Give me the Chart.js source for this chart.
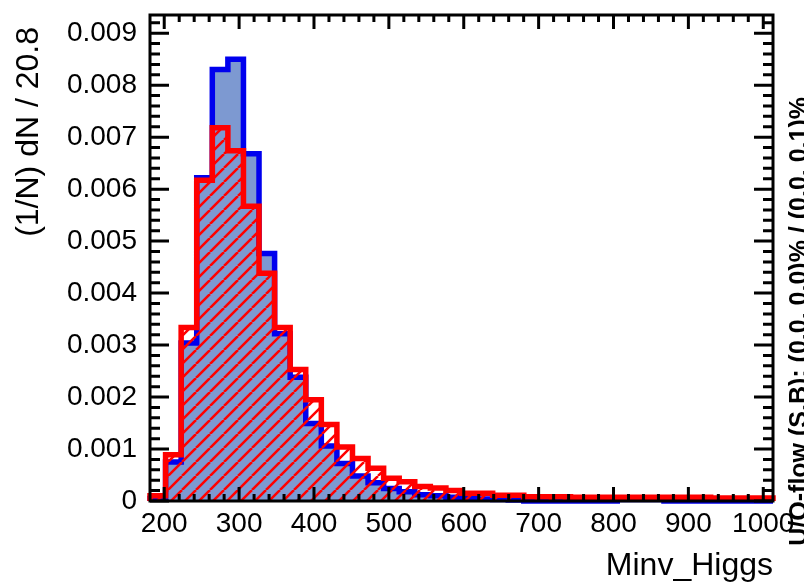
<!DOCTYPE html>
<html>
<head>
<meta charset="utf-8">
<script src="https://cdn.jsdelivr.net/npm/chart.js@4.4.1/dist/chart.umd.min.js"></script>
<style>
    html, body { margin: 0; padding: 0; background: #fff; }
    #wrap { width: 804px; height: 582px; }
</style>
</head>
<body>
<div id="wrap"><canvas id="minvChart" width="804" height="582"></canvas></div>
<script>
// Minv_Higgs, normalised to unit area: 40 bins of width 20.8 from 181 to 1013
const binLow = 181;
const binWidth = 20.8;

const signal = [
    0.00005, 0.00075, 0.00304, 0.00622, 0.0083, 0.0085, 0.00668, 0.00476, 0.00322, 0.00238,
    0.00149, 0.00106, 0.00072, 0.00048, 0.00035, 0.00024, 0.00018, 0.00012, 0.0001, 0.00007,
    0.00005, 0.00004, 0.00003, 0.00002, 0, 0, 0, 0, 0, 0,
    0.00003, 0.00003, 0.00003, 0, 0, 0, 0, 0, 0, 0
];
const background = [
    0.0001, 0.00089, 0.00334, 0.00617, 0.00718, 0.00674, 0.00567, 0.00438, 0.00334, 0.00253,
    0.00195, 0.00147, 0.00104, 0.00082, 0.00063, 0.00044, 0.00037, 0.00028, 0.00025, 0.0002,
    0.00015, 0.00015, 0.00011, 0.00011, 0.00008, 0.00008, 0.00008, 0.00007, 0.00007, 0.00007,
    0.00007, 0.00007, 0.00007, 0.00007, 0.00007, 0.00007, 0.00006, 0.00006, 0.00006, 0.00006
];

const xTicks = [200, 300, 400, 500, 600, 700, 800, 900, 1000];
const yTicks = [0, 0.001, 0.002, 0.003, 0.004, 0.005, 0.006, 0.007, 0.008, 0.009];
const yMax = 0.00935;

const labelFont = '"Liberation Sans", Arial, Helvetica, sans-serif';

// bin contents -> outline points for a step line closed down to zero
function histPoints(values) {
    const xEnd = binLow + values.length * binWidth;
    const pts = [{ x: binLow, y: 0 }];
    values.forEach((v, i) => pts.push({ x: binLow + i * binWidth, y: v }));
    pts.push({ x: xEnd, y: values[values.length - 1] });
    pts.push({ x: xEnd, y: 0 });
    return pts;
}

// red 45 degree hatching for the background histogram
function hatchPattern() {
    const s = 14;
    const c = document.createElement('canvas');
    c.width = s;
    c.height = s;
    const g = c.getContext('2d');
    g.strokeStyle = '#ff0000';
    g.lineWidth = 2.5;
    g.beginPath();
    for (const k of [-1, 0, 1]) {
        g.moveTo(k * s, s);
        g.lineTo(k * s + s, 0);
    }
    g.stroke();
    return g.createPattern(c, 'repeat');
}

// frame with inward ticks on all four sides, titles and the overflow note
const rootFrame = {
    id: 'rootFrame',
    afterDatasetsDraw(chart) {
        const { ctx, chartArea: a, scales: { x, y } } = chart;
        ctx.save();
        ctx.strokeStyle = '#000';
        ctx.lineWidth = 3;
        ctx.beginPath();

        const xStep = (xTicks[1] - xTicks[0]) / 5;
        let v0 = xTicks[0];
        while (v0 - xStep >= x.min) v0 -= xStep;
        for (let v = v0; v <= x.max + 1e-9; v += xStep) {
            const major = xTicks.some(t => Math.abs(t - v) < 1e-6);
            const len = major ? 14 : 7;
            const px = x.getPixelForValue(v);
            ctx.moveTo(px, a.bottom); ctx.lineTo(px, a.bottom - len);
            ctx.moveTo(px, a.top); ctx.lineTo(px, a.top + len);
        }

        const yStep = (yTicks[1] - yTicks[0]) / 5;
        for (let i = 0; yTicks[0] + i * yStep <= y.max + 1e-12; i++) {
            const v = yTicks[0] + i * yStep;
            const len = i % 5 === 0 ? 19 : 10;
            const py = y.getPixelForValue(v);
            ctx.moveTo(a.left, py); ctx.lineTo(a.left + len, py);
            ctx.moveTo(a.right, py); ctx.lineTo(a.right - len, py);
        }
        ctx.stroke();

        ctx.strokeRect(a.left, a.top, a.right - a.left, a.bottom - a.top);
        ctx.restore();
    },
    afterDraw(chart) {
        const { ctx, chartArea: a } = chart;
        ctx.save();
        ctx.fillStyle = '#000';
        ctx.textBaseline = 'alphabetic';
        ctx.textAlign = 'right';

        ctx.font = '32px ' + labelFont;
        ctx.fillText('Minv_Higgs', a.right, 575);

        ctx.save();
        ctx.translate(38, 27);
        ctx.rotate(-Math.PI / 2);
        ctx.fillText('(1/N) dN / 20.8', 0, 0);
        ctx.restore();

        ctx.save();
        ctx.font = 'bold 25px ' + labelFont;
        ctx.translate(807, 97);
        ctx.rotate(-Math.PI / 2);
        ctx.fillText('U/O-flow (S,B): (0.0, 0.0)% / (0.0, 0.1)%', 0, 0);
        ctx.restore();

        ctx.restore();
    }
};

const minvCtx = document.getElementById('minvChart').getContext('2d');
const minvChart = new Chart(minvCtx, {
    type: 'line',
    data: {
        datasets: [
            {
                label: 'Background',
                data: histPoints(background),
                stepped: 'before',
                borderColor: '#ff0000',
                backgroundColor: hatchPattern(),
                fill: 'origin',
                borderWidth: 5.5,
                borderJoinStyle: 'miter',
                pointRadius: 0,
                clip: 4
            },
            {
                label: 'Signal',
                data: histPoints(signal),
                stepped: 'before',
                borderColor: '#0000ee',
                backgroundColor: '#7d99d1',
                fill: 'origin',
                borderWidth: 5.5,
                borderJoinStyle: 'miter',
                pointRadius: 0,
                clip: 4
            }
        ]
    },
    options: {
        responsive: false,
        animation: false,
        layout: { padding: { left: 0, right: 31, top: 15, bottom: 0 } },
        plugins: {
            legend: { display: false },
            tooltip: { enabled: false }
        },
        scales: {
            x: {
                type: 'linear',
                min: binLow,
                max: binLow + 40 * binWidth,
                grid: { display: false, drawTicks: false },
                border: { display: false },
                ticks: {
                    color: '#000',
                    font: { family: labelFont, size: 28 },
                    padding: 6,
                    maxRotation: 0,
                    autoSkip: false,
                    callback: value => String(value)
                },
                afterBuildTicks: scale => { scale.ticks = xTicks.map(v => ({ value: v })); },
                afterFit: scale => {
                    scale.height = 81;
                    scale.paddingLeft = 0;
                    scale.paddingRight = 0;
                }
            },
            y: {
                min: 0,
                max: yMax,
                grid: { display: false, drawTicks: false },
                border: { display: false },
                ticks: {
                    color: '#000',
                    font: { family: labelFont, size: 28 },
                    padding: 13,
                    callback: value => value === 0 ? '0' : value.toFixed(3)
                },
                afterBuildTicks: scale => { scale.ticks = yTicks.map(v => ({ value: v })); },
                afterFit: scale => {
                    scale.width = 150;
                    scale.paddingTop = 0;
                    scale.paddingBottom = 0;
                }
            }
        }
    },
    plugins: [rootFrame]
});
</script>
</body>
</html>
